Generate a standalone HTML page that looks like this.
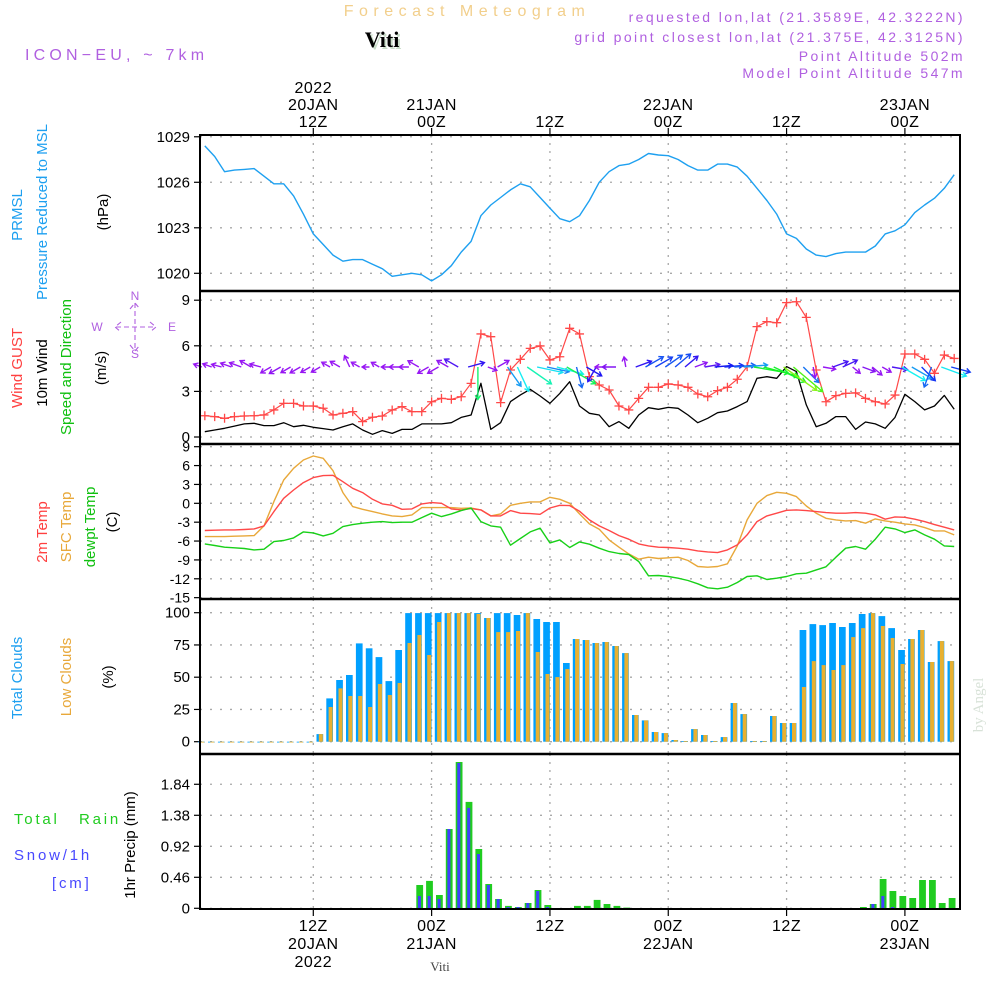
<!DOCTYPE html>
<html><head><meta charset="utf-8"><title>Forecast Meteogram Viti</title>
<style>
html,body{margin:0;padding:0;background:#fff;}
svg{display:block;font-family:"Liberation Sans",sans-serif;}
</style></head>
<body>
<svg id="chart" width="1000" height="1000" viewBox="0 0 1000 1000" xmlns="http://www.w3.org/2000/svg">
<rect x="0" y="0" width="1000" height="1000" fill="#fff"/>
<text x="467" y="16" text-anchor="middle" font-size="16" fill="#f2cf8c" letter-spacing="5.5">Forecast Meteogram</text>
<text x="384" y="49" text-anchor="middle" font-size="22" font-weight="bold" font-family="Liberation Serif,serif" fill="#c8dcc8">Viti</text>
<text x="382" y="47" text-anchor="middle" font-size="22" font-weight="bold" font-family="Liberation Serif,serif" fill="#000">Viti</text>
<text x="25" y="60" font-size="16" fill="#b060e0" letter-spacing="4.2">ICON−EU, ~ 7km</text>
<g font-size="14" fill="#b060e0" text-anchor="end" letter-spacing="2.4">
<text x="965" y="22">requested lon,lat (21.3589E, 42.3222N)</text>
<text x="965" y="42">grid point closest lon,lat (21.375E, 42.3125N)</text>
<text x="965" y="61">Point Altitude 502m</text>
<text x="965" y="78">Model Point Altitude 547m</text>
</g>
<text transform="translate(983,705) rotate(-90)" text-anchor="middle" font-size="15" font-family="Liberation Serif,serif" fill="#d8e2d8">by Angel</text>
<text x="440" y="971" text-anchor="middle" font-size="13" font-family="Liberation Serif,serif" fill="#444">Viti</text>

<g font-size="15">
<text transform="translate(22,215) rotate(-90)" text-anchor="middle" fill="#1ea0f0">PRMSL</text>
<text transform="translate(47,212) rotate(-90)" text-anchor="middle" fill="#1ea0f0">Pressure Reduced to MSL</text>
<text transform="translate(108,212) rotate(-90)" text-anchor="middle" fill="#000">(hPa)</text>
<text transform="translate(22,368) rotate(-90)" text-anchor="middle" fill="#ff4040">Wind GUST</text>
<text transform="translate(47,373) rotate(-90)" text-anchor="middle" fill="#000">10m Wind</text>
<text transform="translate(71,367) rotate(-90)" text-anchor="middle" fill="#10c010">Speed and Direction</text>
<text transform="translate(106,368) rotate(-90)" text-anchor="middle" fill="#000">(m/s)</text>
<text transform="translate(47,532) rotate(-90)" text-anchor="middle" fill="#ff4040">2m Temp</text>
<text transform="translate(71,527) rotate(-90)" text-anchor="middle" fill="#e8a83a">SFC Temp</text>
<text transform="translate(95,527) rotate(-90)" text-anchor="middle" fill="#10c010">dewpt Temp</text>
<text transform="translate(117,522) rotate(-90)" text-anchor="middle" fill="#000">(C)</text>
<text transform="translate(22,678) rotate(-90)" text-anchor="middle" fill="#1ea0f0">Total Clouds</text>
<text transform="translate(71,677) rotate(-90)" text-anchor="middle" fill="#e8a83a">Low Clouds</text>
<text transform="translate(113,677) rotate(-90)" text-anchor="middle" fill="#000">(%)</text>
<text transform="translate(135,845) rotate(-90)" text-anchor="middle" fill="#000">1hr Precip (mm)</text>
<text x="14" y="824" fill="#20cc20" letter-spacing="2.8">Total</text>
<text x="79" y="824" fill="#20cc20" letter-spacing="2.8">Rain</text>
<text x="14" y="860" fill="#4848ff" letter-spacing="2.8">Snow/1h</text>
<text x="52" y="888" fill="#4848ff" letter-spacing="2.8">[cm]</text>
</g>
<g font-size="12" fill="#b060e0" text-anchor="middle">
<text x="135" y="300">N</text>
<text x="135" y="358">S</text>
<text x="97" y="331">W</text>
<text x="172" y="331">E</text>
<path d="M116,327H156M121,322L115,327L121,332M150,322L156,327L150,332M135,303V351M130,309L135,303L140,309M130,345L135,351L140,345" stroke="#b060e0" stroke-width="1.1" fill="none" stroke-dasharray="5,3"/>
</g>
<g id="plot"></g>
</svg>
<script>
// ---- data (hourly, h = 1..77 from 00Z 20 JAN 2022) ----
const hours = [];
for (let i = 1; i <= 77; i++) hours.push(i);
const pressure = [1028.4,1027.7,1026.7,1026.8,1026.85,1026.9,1026.4,1025.9,1025.9,1025.1,1023.9,1022.6,1021.9,1021.2,1020.8,1020.9,1020.9,1020.6,1020.3,1019.8,1019.9,1020.0,1019.9,1019.5,1019.9,1020.5,1021.4,1022.1,1023.8,1024.5,1025.0,1025.5,1025.9,1025.7,1025.0,1024.3,1023.6,1023.4,1023.8,1024.8,1026.0,1026.7,1027.1,1027.2,1027.5,1027.9,1027.8,1027.75,1027.5,1027.1,1026.8,1026.8,1027.2,1027.2,1027.0,1026.4,1025.6,1024.8,1023.9,1022.6,1022.3,1021.6,1021.2,1021.1,1021.3,1021.4,1021.4,1021.4,1021.8,1022.6,1022.8,1023.2,1024.0,1024.5,1024.95,1025.6,1026.5];
const gust = [1.40,1.34,1.23,1.34,1.38,1.40,1.45,1.78,2.21,2.21,2.04,2.04,1.89,1.45,1.56,1.67,1.01,1.30,1.38,1.78,2.00,1.67,1.67,2.32,2.54,2.48,2.65,3.53,6.78,6.60,2.26,4.41,5.11,5.83,5.99,5.07,5.28,7.15,6.78,3.97,3.42,3.09,2.04,1.78,2.54,3.27,3.27,3.49,3.42,3.27,2.83,2.65,3.05,3.27,3.80,4.63,7.26,7.59,7.52,8.84,8.90,7.87,4.41,2.32,2.72,2.87,2.90,2.54,2.32,2.17,2.76,5.46,5.46,5.11,4.19,5.39,5.17];
const wind = [0.35,0.46,0.57,0.72,0.86,0.90,0.75,0.75,0.94,0.68,0.77,0.64,0.55,0.46,0.68,0.86,0.46,0.18,0.42,0.24,0.50,0.50,0.86,0.86,0.86,0.94,1.29,1.45,3.53,0.50,0.94,2.33,2.77,3.14,2.70,2.22,2.87,3.64,2.04,1.56,1.45,0.68,1.01,0.57,1.45,1.93,1.82,1.95,1.89,1.45,0.94,1.23,1.60,1.71,2.00,2.33,3.86,3.97,3.86,4.63,4.30,2.11,0.68,0.90,1.34,1.34,0.50,0.99,0.86,0.57,1.29,2.81,2.33,1.78,2.04,2.74,1.82];
const windDir = [-160,-160,-165,-160,-160,-150,-165,150,150,150,150,150,150,-150,-150,-115,-150,180,-150,180,180,180,-150,150,150,-150,-150,-15,90,20,-30,55,65,35,12,12,15,30,75,30,120,180,180,-100,-20,-30,-30,-35,-40,-40,-20,-10,-5,-5,-5,-5,10,15,25,35,40,45,80,10,-20,-25,40,20,40,30,10,30,30,45,110,20,15];
const temp2m = [-4.33,-4.28,-4.23,-4.23,-4.17,-4.07,-3.59,-1.32,0.80,2.12,3.29,4.08,4.40,4.45,3.44,2.39,1.70,0.64,-0.10,-0.31,-0.95,-0.89,-0.10,0.11,0.0,-0.89,-1.05,-0.84,-1.05,-2.0,-2.0,-1.16,-1.58,-1.63,-1.74,-0.74,-0.31,-0.37,-1.26,-2.64,-3.59,-4.33,-5.13,-5.71,-6.45,-6.77,-6.98,-7.03,-7.14,-7.30,-7.56,-7.72,-7.83,-7.40,-6.61,-5.02,-2.90,-2.0,-1.58,-1.11,-1.05,-1.16,-1.32,-1.48,-1.58,-1.58,-1.48,-1.58,-1.85,-2.53,-2.16,-2.22,-2.53,-2.90,-3.38,-3.80,-4.23];
const tempSfc = [-5.29,-5.29,-5.29,-5.23,-5.18,-5.13,-3.59,0.27,3.71,5.56,6.88,7.52,7.15,5.19,1.70,-0.52,-0.95,-1.32,-1.69,-2.0,-2.11,-1.85,-0.68,-0.68,-0.68,-0.68,-0.79,-0.74,-1.05,-2.0,-1.69,-0.31,0.0,0.22,0.22,0.96,0.64,0.0,-1.69,-3.28,-4.12,-5.81,-6.98,-8.04,-8.88,-8.57,-8.78,-8.67,-8.57,-9.10,-10.05,-10.15,-10.05,-9.62,-6.77,-2.64,0.0,1.22,1.75,1.59,1.06,-0.42,-1.58,-2.38,-2.64,-2.80,-2.75,-3.17,-2.48,-2.80,-3.01,-3.28,-3.43,-3.86,-4.39,-4.39,-5.02];
const dewpt = [-6.45,-6.71,-6.98,-7.08,-7.19,-7.40,-7.30,-6.08,-5.92,-5.50,-4.54,-4.70,-5.18,-4.76,-3.70,-3.38,-3.17,-3.01,-2.90,-3.06,-3.01,-3.01,-2.27,-1.58,-2.11,-1.69,-1.16,-0.74,-2.90,-3.59,-3.80,-6.66,-5.60,-4.54,-3.96,-6.29,-5.81,-7.03,-6.13,-6.50,-7.14,-7.67,-7.98,-8.14,-9.25,-11.53,-11.48,-11.63,-11.90,-12.27,-12.80,-13.43,-13.59,-13.33,-12.59,-11.63,-11.53,-12.11,-11.90,-11.63,-11.21,-11.11,-10.58,-10.10,-8.57,-7.14,-6.87,-7.30,-5.71,-3.80,-4.07,-4.65,-4.23,-5.02,-5.71,-6.77,-6.87];
const cloudTotal = [0,0,0,0,0,0,0,0,0,0,0,0,5.9,33.6,47.8,51.7,76.2,72.4,65.6,47.0,71.1,99.7,99.7,99.7,99.7,99.7,99.7,99.7,99.7,95.9,99.7,99.7,98.2,99.7,95.1,92.8,92.8,61.0,79.6,78.8,76.5,77.3,74.2,68.7,20.7,16.5,7.5,6.7,1.3,0.5,9.8,5.2,0.5,3.6,30,21.4,0.5,0.5,19.9,14.5,14.5,86.6,91.2,90.4,92.0,88.9,92.0,99.0,99.7,97.4,88.1,71.1,79.6,86.6,61.8,78.0,62.5];
const cloudLow = [0,0,0,0,0,0,0,0,0,0,0,0,5.9,26.9,41.3,35.4,35.4,26.9,44.7,36.2,45.5,76.5,82.7,67.2,92.8,99.7,99.7,99.7,99.0,95.9,85.0,85.0,85.8,99.7,69.5,52.5,50.1,56.3,79.6,78.8,76.5,77.3,74.2,68.7,20.7,16.5,7.5,6.7,1.3,0.5,9.8,5.2,0.5,3.6,30,21.4,0.5,0.5,19.9,14.5,14.5,42.4,62.5,59.4,55.6,59.4,81.1,88.1,99.7,89.7,80.4,60.2,79.6,86.6,61.8,78.0,62.5];
const rain = [0,0,0,0,0,0,0,0,0,0,0,0,0,0,0,0,0,0,0,0,0,0,0.346,0.406,0.198,1.177,2.171,1.578,0.880,0.361,0.138,0.035,0.02,0.079,0.272,0.049,0,0,0.035,0.035,0.124,0.064,0.035,0.01,0,0,0,0,0,0,0,0,0,0,0,0,0,0,0,0,0,0,0,0,0,0,0,0.02,0.064,0.435,0.257,0.183,0.153,0.42,0.42,0.079,0.153];
const snow = [0,0,0,0,0,0,0,0,0,0,0,0,0,0,0,0,0,0,0,0,0,0,0.183,0.183,0.138,1.177,2.156,1.489,0.806,0.346,0.138,0.02,0.02,0.079,0.257,0.02,0,0,0,0,0,0,0,0,0,0,0,0,0,0,0,0,0,0,0,0,0,0,0,0,0,0,0,0,0,0,0,0,0.064,0.183,0.02,0,0,0,0,0,0];
const pressTicks = [1020,1023,1026,1029];
const windTicks = [0,3,6,9];
const tempTicks = [9,6,3,0,-3,-6,-9,-12,-15];
const cloudTicks = [0,25,50,75,100];
const precipTicks = [0,0.46,0.92,1.38,1.84];
const timeTicks = [12,24,36,48,60,72];
const topTime = [["2022","20JAN","12Z"],["","21JAN","00Z"],["","","12Z"],["","22JAN","00Z"],["","","12Z"],["","23JAN","00Z"]];
const bottomTime = [["12Z","20JAN","2022"],["00Z","21JAN",""],["12Z","",""],["00Z","22JAN",""],["12Z","",""],["00Z","23JAN",""]];

// ---- axes ----
const L = 200, R = 960;
const xs = h => 313.3 + (h - 12) * 9.86;
const yP = v => 273.3 - (v - 1020) * 15.17;
const yW = v => 437 - v * 15.2;
const yT = v => 446.7 + (9 - v) * 6.29;
const yC = v => 741.7 - v * 1.29;
const yR = v => 908.3 - v * 67.4;

const NS = "http://www.w3.org/2000/svg";
const plot = document.getElementById('plot');
function mk(tag, attrs, parent) {
  const e = document.createElementNS(NS, tag);
  for (const k in attrs) e.setAttribute(k, attrs[k]);
  (parent || plot).appendChild(e);
  return e;
}
function grp(name) {
  const g = mk('g', {});
  
  
  return g;
}

const panels = [
  {name:'pressure', top:135, bot:291, ticks:pressTicks, f:yP, fmt:v=>String(v)},
  {name:'wind', top:291, bot:444, ticks:windTicks, f:yW, fmt:v=>String(v)},
  {name:'temperature', top:444, bot:599, ticks:tempTicks, f:yT, fmt:v=>String(v)},
  {name:'clouds', top:599, bot:754, ticks:cloudTicks, f:yC, fmt:v=>String(v)},
  {name:'precip', top:754, bot:909, ticks:precipTicks, f:yR, fmt:v=>v===0?'0':v.toFixed(2)}
];
panels.forEach(p => {
  const g = grp(p.name + '-grid');
  p.ticks.forEach(t => {
    const y = p.f(t);
    const gl = mk('line', {x1:L, x2:R, y1:y, y2:y, stroke:'#a8a8a8', 'stroke-width':1.3, 'stroke-dasharray':'2,8'}, g);
    
    
    const tk = mk('line', {x1:194, x2:L, y1:y, y2:y, stroke:'#000', 'stroke-width':1.2}, g);
    
    
    const tx = mk('text', {x:190, y:y+5, 'text-anchor':'end', 'font-size': p.name==='temperature'?14:15, fill:'#000'}, g);
    
    
    tx.textContent = p.fmt(t);
  });
  timeTicks.forEach(h => {
    const vl = mk('line', {x1:xs(h), x2:xs(h), y1:p.top, y2:p.bot, stroke:'#a8a8a8', 'stroke-width':1.3, 'stroke-dasharray':'2,6'}, g);
    
    
  });
});

// time labels
const tg = grp('time-axis');
timeTicks.forEach((h, i) => {
  const x = xs(h);
  const t1 = mk('line', {x1:x, x2:x, y1:128, y2:135, stroke:'#000', 'stroke-width':1.2}, tg);
  
  
  const t2 = mk('line', {x1:x, x2:x, y1:909, y2:916, stroke:'#000', 'stroke-width':1.2}, tg);
  
  
  topTime[i].forEach((s, j) => {
    if (!s) return;
    const t = mk('text', {x:x, y:93 + j*17, 'text-anchor':'middle', 'font-size':16, fill:'#000', 'letter-spacing':'0.5'}, tg);
    
    
    t.textContent = s;
  });
  bottomTime[i].forEach((s, j) => {
    if (!s) return;
    const t = mk('text', {x:x, y:931 + j*18, 'text-anchor':'middle', 'font-size':16, fill:'#000', 'letter-spacing':'0.5'}, tg);
    
    
    t.textContent = s;
  });
});

function line(arr, fy, color, name, w) {
  const pts = arr.map((v, i) => xs(hours[i]).toFixed(1) + ',' + fy(v).toFixed(1)).join(' ');
  const pl = mk('polyline', {points:pts, fill:'none', stroke:color, 'stroke-width':w||1.3, 'stroke-linejoin':'round'});
  
  
}

// pressure
line(pressure, yP, '#1ea0f0', 'pressure-line', 1.4);

// wind
line(wind, yW, '#000', 'wind-speed-line', 1.3);
line(gust, yW, '#ff4848', 'wind-gust-line', 1.2);
const gm = grp('gust-markers');
gust.forEach((v, i) => {
  const x = xs(hours[i]), y = yW(v);
  const p = mk('path', {d:`M${x-4.5},${y}H${x+4.5}M${x},${y-4.5}V${y+4.5}`, stroke:'#ff4848', 'stroke-width':1.3}, gm);
  
  
});
const ag = grp('wind-arrows');
windDir.forEach((d, i) => {
  const sp = wind[i];
  const len = 6 + sp * 7.5;
  const hue = Math.min(275, Math.max(50, 275 - (sp - 0.9) * 50));
  const col = `hsl(${hue},90%,52%)`;
  const x0 = xs(hours[i]) - 3, y0 = 367;
  const a = d * Math.PI / 180;
  const x1 = x0 + Math.cos(a) * len, y1 = y0 + Math.sin(a) * len;
  const h1 = a + Math.PI * 0.82, h2 = a - Math.PI * 0.82;
  const p = mk('path', {d:`M${x0.toFixed(1)},${y0}L${x1.toFixed(1)},${y1.toFixed(1)}M${(x1+Math.cos(h1)*5).toFixed(1)},${(y1+Math.sin(h1)*5).toFixed(1)}L${x1.toFixed(1)},${y1.toFixed(1)}L${(x1+Math.cos(h2)*5).toFixed(1)},${(y1+Math.sin(h2)*5).toFixed(1)}`, stroke:col, 'stroke-width':1.4, fill:'none'}, ag);
  
  
});

// temps
line(tempSfc, yT, '#e8a83a', 'sfc-temp-line', 1.4);
line(temp2m, yT, '#ff4848', 't2m-line', 1.4);
line(dewpt, yT, '#18d018', 'dewpt-line', 1.4);

// clouds
const cg = grp('cloud-bars');
cloudTotal.forEach((v, i) => {
  const x = xs(hours[i]);
  const b = mk('rect', {x:(x-6.7).toFixed(1), y:yC(v).toFixed(1), width:6.7, height:Math.max(0.8, yC(0)-yC(v)).toFixed(1), fill:'#00a0ff'}, cg);
  
  
  const lv = cloudLow[i];
  const o = mk('rect', {x:(x-4.4).toFixed(1), y:yC(lv).toFixed(1), width:4, height:Math.max(0.8, yC(0)-yC(lv)).toFixed(1), fill:'#e8b030'}, cg);
  
  
});

// precip
const pg = grp('precip-bars');
rain.forEach((v, i) => {
  if (v <= 0) return;
  const x = xs(hours[i]);
  const b = mk('rect', {x:(x-5.5).toFixed(1), y:yR(v).toFixed(1), width:6.8, height:(yR(0)-yR(v)).toFixed(1), fill:'#20cc20'}, pg);
  
  
});
snow.forEach((v, i) => {
  if (v <= 0) return;
  const x = xs(hours[i]);
  const b = mk('rect', {x:(x-3.9).toFixed(1), y:yR(v).toFixed(1), width:3, height:(yR(0)-yR(v)).toFixed(1), fill:'#4040ff'}, pg);
  
  
});

// borders
const bg = grp('panel-borders');
const fr = mk('rect', {x:L, y:135, width:R-L, height:909-135, fill:'none', stroke:'#000', 'stroke-width':2}, bg);


[291, 444, 599, 754].forEach(y => {
  const s = mk('line', {x1:L, x2:R, y1:y, y2:y, stroke:'#000', 'stroke-width':2.5}, bg);
  
  
});
</script>
</body></html>
